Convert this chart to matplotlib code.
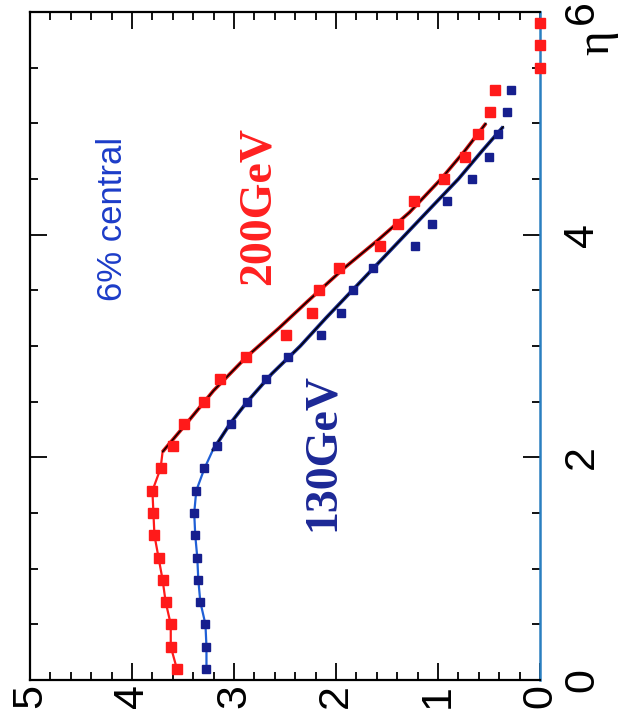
import matplotlib
matplotlib.use("Agg")
import matplotlib.pyplot as plt
from matplotlib.ticker import MultipleLocator

# dN/deta per participant pair, read from the (rotated) figure
eta = [0.1, 0.3, 0.5, 0.7, 0.9, 1.1, 1.3, 1.5, 1.7, 1.9, 2.1, 2.3, 2.5, 2.7,
       2.9, 3.1, 3.3, 3.5, 3.7, 3.9, 4.1, 4.3, 4.5, 4.7, 4.9, 5.1, 5.3]
red_200 = [3.56, 3.62, 3.62, 3.67, 3.70, 3.74, 3.78, 3.79, 3.80, 3.72, 3.60, 3.49, 3.29, 3.14,
           2.88, 2.49, 2.24, 2.17, 1.97, 1.57, 1.39, 1.24, 0.94, 0.74, 0.61, 0.49, 0.44]
blue_130 = [3.27, 3.27, 3.28, 3.33, 3.35, 3.36, 3.38, 3.39, 3.37, 3.29, 3.17, 3.03, 2.87, 2.69,
            2.47, 2.15, 1.95, 1.83, 1.64, 1.23, 1.06, 0.91, 0.67, 0.50, 0.41, 0.32, 0.28]

# extra 200 GeV points sitting on the axis
edge_eta = [5.5, 5.7, 5.9]
edge_val = [0.0, 0.0, 0.0]

# fitted curves (black) on the falling edge
fit_eta_200 = [2.05, 2.3, 2.6, 2.9, 3.16, 3.4, 3.7, 3.95, 4.2, 4.5, 4.75, 5.0]
fit_val_200 = [3.70, 3.47, 3.20, 2.88, 2.56, 2.28, 1.92, 1.59, 1.28, 0.97, 0.74, 0.53]
fit_eta_130 = [2.06, 2.3, 2.5, 2.75, 3.0, 3.25, 3.5, 3.75, 4.0, 4.27, 4.5, 4.75, 4.97]
fit_val_130 = [3.21, 3.04, 2.87, 2.63, 2.35, 2.10, 1.84, 1.58, 1.32, 1.04, 0.80, 0.57, 0.36]

value_ticks = [0, 1, 2, 3, 4, 5]
eta_ticks = [0, 2, 4, 6]

RED = "#ff1a1a"
NAVY = "#161f8e"
BLUE_LINE = "#1f5fd6"

plt.rcParams["font.family"] = ["Liberation Sans", "DejaVu Sans"]

fig = plt.figure(figsize=(6.21, 7.19), dpi=100)
ax = fig.add_axes([30 / 621, 39 / 719, 510 / 621, 668 / 719])

n_low = 10  # points before the fit takes over
ax.plot(red_200[:n_low] + fit_val_200[:1], eta[:n_low] + fit_eta_200[:1], color=RED, lw=1.6)
ax.plot(blue_130[:n_low] + fit_val_130[:1], eta[:n_low] + fit_eta_130[:1], color=BLUE_LINE, lw=1.6)
ax.plot(fit_val_200, fit_eta_200, color="#d01010", lw=2.6, solid_capstyle="butt")
ax.plot(fit_val_200, fit_eta_200, color="black", lw=1.0)
ax.plot(fit_val_130, fit_eta_130, color="#1a2a90", lw=2.6, solid_capstyle="butt")
ax.plot(fit_val_130, fit_eta_130, color="black", lw=1.0)

ax.plot(red_200, eta, ls="none", marker="s", ms=6.5, color=RED, mec=RED)
ax.plot(blue_130, eta, ls="none", marker="s", ms=5.5, color=NAVY, mec=NAVY)
ax.plot(edge_val, edge_eta, ls="none", marker="s", ms=7, color=RED, clip_on=False, zorder=5)

ax.set_xlim(5, 0)
ax.set_ylim(0, 6)
ax.set_xticks(value_ticks)
ax.set_xticklabels([str(v) for v in value_ticks], rotation=90, fontsize=31)
ax.xaxis.set_minor_locator(MultipleLocator(0.2))
ax.set_yticks(eta_ticks)
ax.set_yticklabels([str(v) for v in eta_ticks], rotation=90, fontsize=31, va="center")
ax.yaxis.set_minor_locator(MultipleLocator(0.5))
ax.yaxis.tick_right()
ax.tick_params(which="both", direction="in", top=True, bottom=True, left=True, right=True,
               labelleft=False, labelright=True, labeltop=False, labelbottom=True, width=1.3)
ax.tick_params(which="major", length=12)
ax.tick_params(axis="x", which="major", pad=3)
ax.tick_params(axis="y", which="major", pad=16)
ax.tick_params(which="minor", length=5.5)
for side in ("left", "bottom", "top"):
    ax.spines[side].set_linewidth(1.6)
ax.spines["right"].set_linewidth(1.8)
ax.spines["right"].set_color("#2a7fc0")

ax.text(4.19, 4.14, "6% central", rotation=90, color="#1c3cc8", fontsize=25,
        ha="center", va="center")
ax.text(2.76, 4.26, "200GeV", rotation=90, color="#ff2020", fontsize=33, fontweight="bold",
        family="Liberation Serif", ha="center", va="center")
ax.text(2.13, 2.05, "130GeV", rotation=90, color="#1c2896", fontsize=33, fontweight="bold",
        family="Liberation Serif", ha="center", va="center")
ax.text(-0.56, 5.72, "η", rotation=90, fontsize=34, family="Liberation Serif",
        ha="center", va="center", clip_on=False)

fig.savefig("out.png", dpi=100)
